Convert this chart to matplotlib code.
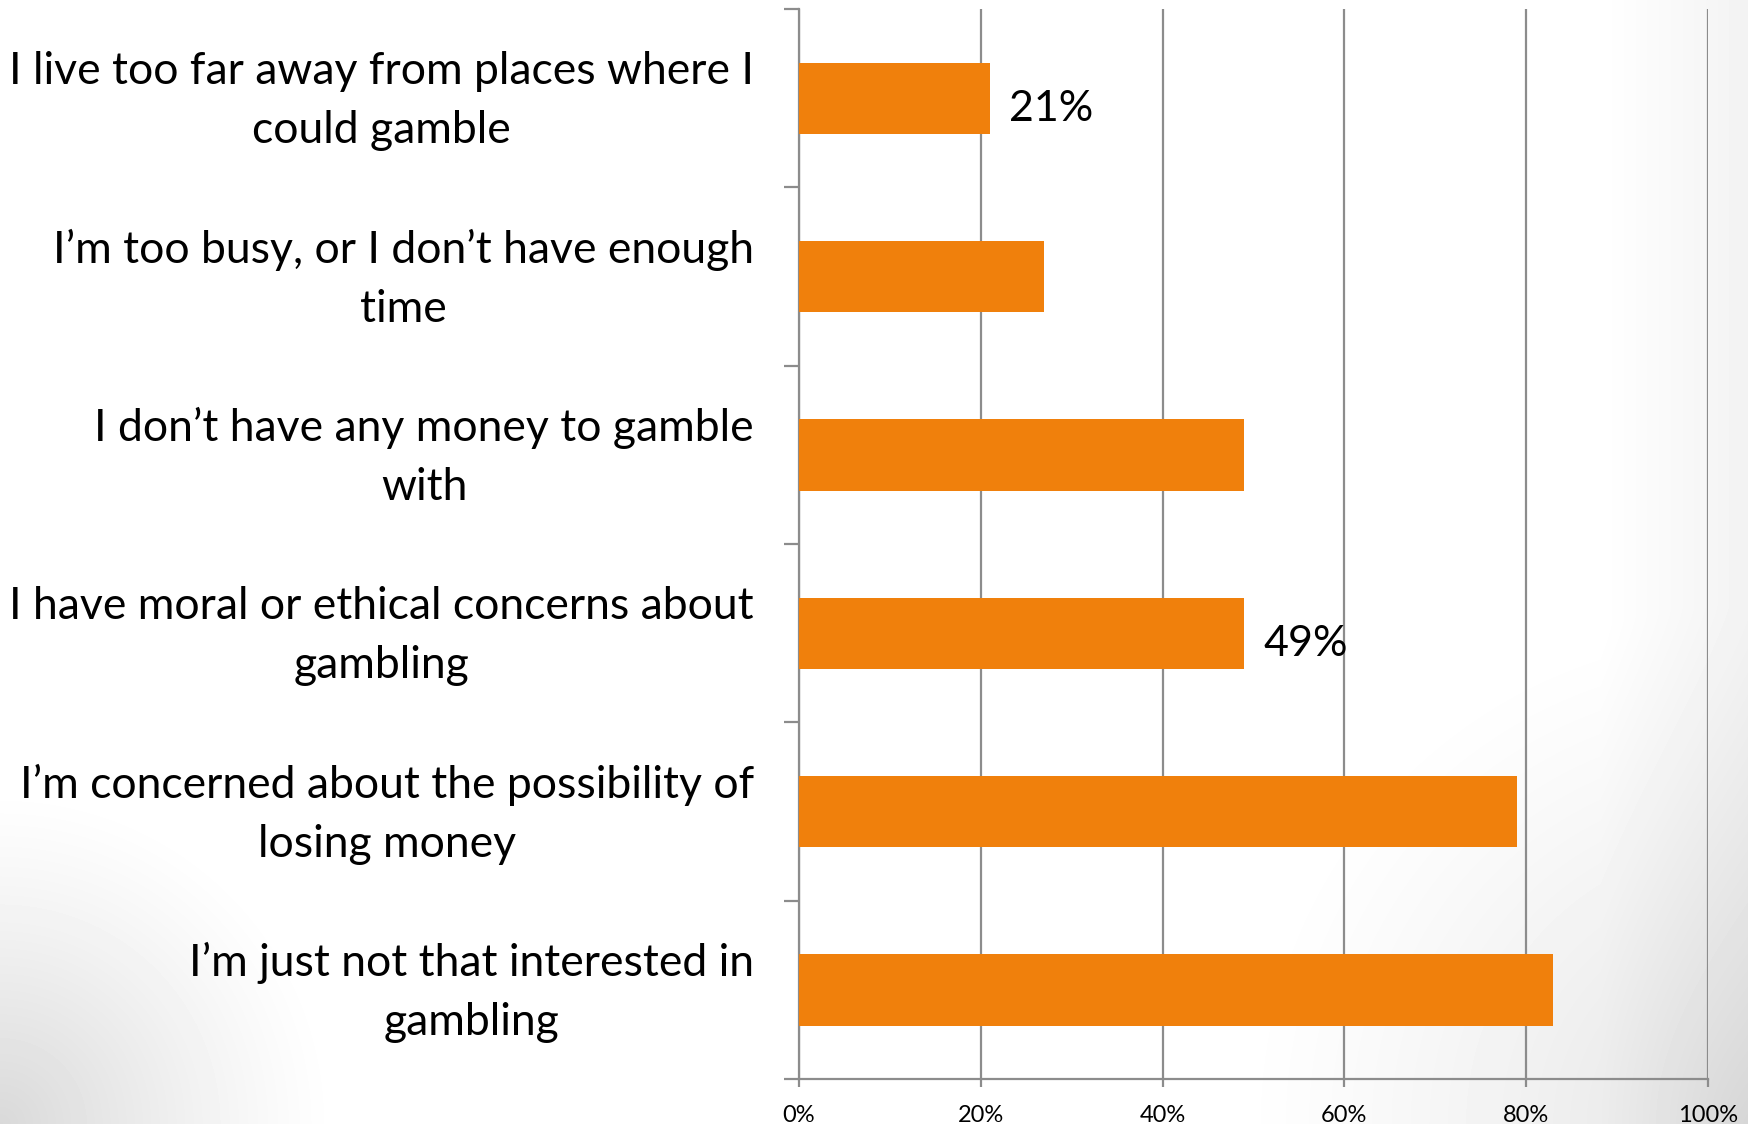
import numpy as np
import matplotlib
matplotlib.use("Agg")
import matplotlib.pyplot as plt
from matplotlib.transforms import ScaledTranslation

plt.rcParams['font.family'] = ['Lato', 'DejaVu Sans']

# Survey reasons for not gambling, top to bottom
reasons = [
    "I live too far away from places where I\ncould gamble",
    "I\u2019m too busy, or I don\u2019t have enough\ntime",
    "I don\u2019t have any money to gamble\nwith",
    "I have moral or ethical concerns about\ngambling",
    "I\u2019m concerned about the possibility of\nlosing money",
    "I\u2019m just not that interested in\ngambling",
]
shares = [0.21, 0.27, 0.49, 0.49, 0.79, 0.83]
# only some bars carry a value label
show_label = [True, False, False, True, False, False]
x_ticks = [0, 0.2, 0.4, 0.6, 0.8, 1.0]
x_tick_labels = ["0%", "20%", "40%", "60%", "80%", "100%"]

BAR_COLOR = "#F0800C"
GRID_COLOR = "#8C8C8C"

W, H = 1748, 1124
fig = plt.figure(figsize=(W / 100, H / 100), dpi=100)

# soft slide background: grey toward the bottom-left corner and the right side
yy, xx = np.mgrid[0:H, 0:W].astype(float)
r_bl = np.hypot(xx, yy - H)
r_br = np.hypot(xx - W, yy - H)
shade = (0.15 * np.clip(1 - r_bl / 340, 0, 1) ** 1.2
         + 0.11 * np.clip(1 - r_br / 520, 0, 1) ** 1.2
         + 0.05 * np.clip((xx - 1600) / 150, 0, 1))
bg = 1 - shade
bg_ax = fig.add_axes([0, 0, 1, 1], zorder=-1)
bg_ax.imshow(bg, cmap="gray", vmin=0, vmax=1, aspect="auto", interpolation="bilinear")
bg_ax.axis("off")

ax = fig.add_axes([799 / W, 1 - 1079 / H, (1708 - 799) / W, (1079 - 9) / H])
ax.patch.set_alpha(0)

pos = np.arange(len(reasons))
ax.barh(pos, shares, height=0.4, color=BAR_COLOR, zorder=3)

for p, v, lab in zip(pos, shares, show_label):
    if lab:
        ax.annotate(f"{v:.0%}", xy=(v, p), xytext=(14, -8), textcoords="offset points",
                    ha="left", va="center", fontsize=31, color="black", zorder=4)

ax.set_xlim(0, 1.0)
ax.set_ylim(len(reasons) - 0.5, -0.5)

ax.set_xticks(x_ticks)
ax.set_xticklabels(x_tick_labels, fontsize=17)
ax.xaxis.grid(True, color=GRID_COLOR, linewidth=1.6, zorder=0)
ax.set_axisbelow(True)

# category names as right-aligned text blocks left of the axis
ax.set_yticks(pos)
ax.set_yticklabels([])
label_trans = ax.get_yaxis_transform() + ScaledTranslation(-0.45, -0.03, fig.dpi_scale_trans)
for p, name in zip(pos, reasons):
    ax.text(0, p, name, transform=label_trans, ha="right", va="center",
            multialignment="center", fontsize=32, linespacing=1.55)
ax.set_yticks(np.arange(-0.5, len(reasons), 1.0), minor=True)

ax.tick_params(axis="y", which="major", length=0)
ax.tick_params(axis="y", which="minor", length=11, width=1.6, color=GRID_COLOR, direction="out")
ax.tick_params(axis="x", length=6, width=1.6, color=GRID_COLOR, direction="out", pad=13)

for side in ["top", "right"]:
    ax.spines[side].set_visible(False)
for side in ["left", "bottom"]:
    ax.spines[side].set_color(GRID_COLOR)
    ax.spines[side].set_linewidth(1.6)

fig.savefig("out.png", dpi=100)
